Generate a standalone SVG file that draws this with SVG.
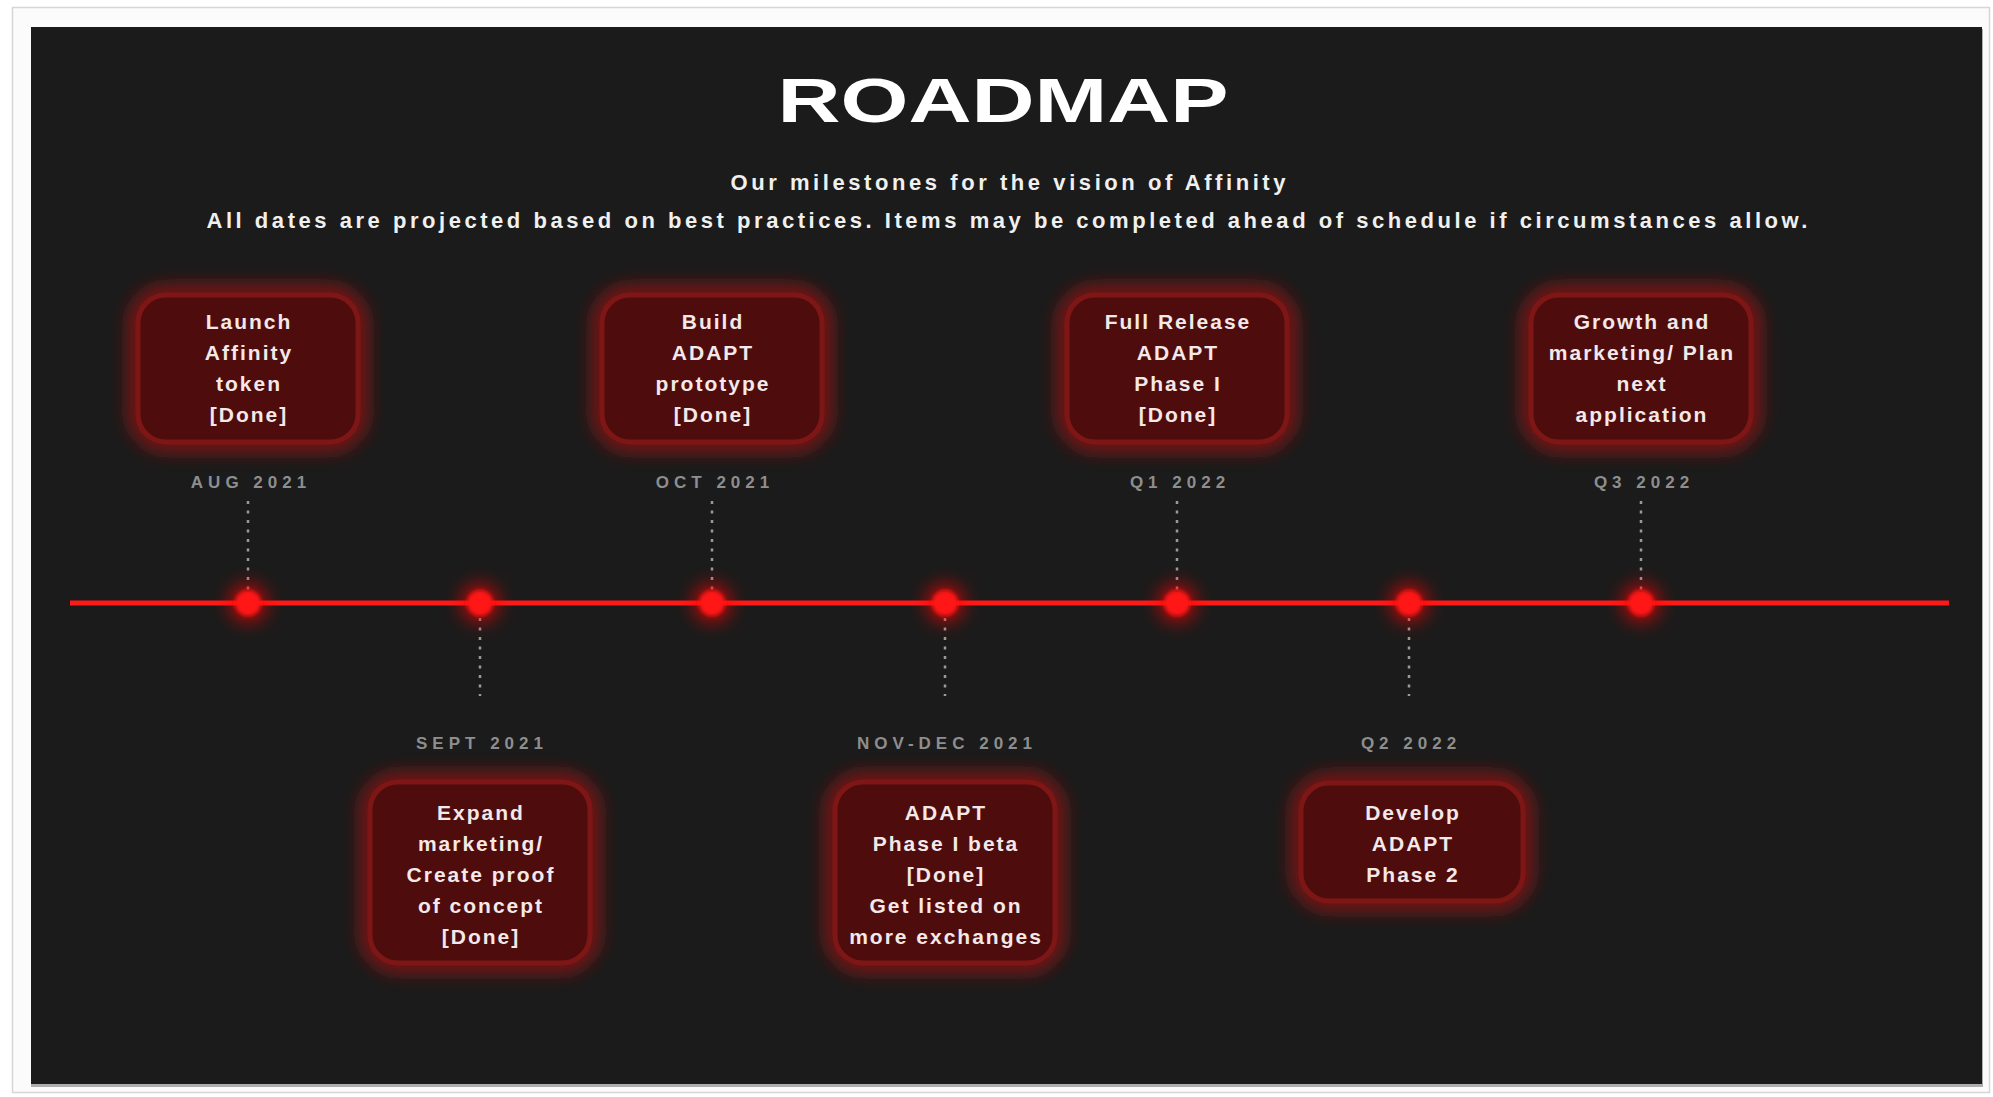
<svg xmlns="http://www.w3.org/2000/svg" width="1993" height="1097" viewBox="0 0 1993 1097">
  <defs>
    <filter id="glow" x="-40%" y="-40%" width="180%" height="180%">
      <feGaussianBlur stdDeviation="9"/>
    </filter>
    <filter id="soft" x="-50%" y="-50%" width="200%" height="200%">
      <feGaussianBlur stdDeviation="2"/>
    </filter>
    <filter id="lineglow" x="-5%" y="-300%" width="110%" height="700%">
      <feGaussianBlur stdDeviation="4"/>
    </filter>
  </defs>
  <style>
    .title { font-family: "Liberation Sans", Arial, sans-serif; font-weight: bold; font-size: 63px; fill: #ffffff; }
    .sub { font-family: "Liberation Sans", Arial, sans-serif; font-weight: bold; font-size: 22px; fill: #f0f0f0; }
    .txt { font-family: "Liberation Sans", Arial, sans-serif; font-weight: bold; font-size: 21px; letter-spacing: 2px; fill: #f4e8e8; text-anchor: middle; }
    .date { font-family: "Liberation Sans", Arial, sans-serif; font-weight: bold; font-size: 17px; letter-spacing: 5px; fill: #8e8e8e; text-anchor: middle; }
    .halo { fill: none; stroke: #9a1414; stroke-width: 20; opacity: 0.8; filter: url(#glow); }
    .box { fill: #4e0c0c; stroke: #7e1616; stroke-width: 5; }
    .dash { stroke: #9a9a9a; stroke-width: 2.5; stroke-dasharray: 3 6.5; fill: none; }
    .dothalo { fill: #ff0000; opacity: 0.6; filter: url(#glow); }
    .dot { fill: #ff1414; filter: url(#soft); }
  </style>

  <!-- page background and frame -->
  <rect x="0" y="0" width="1993" height="1097" fill="#ffffff"/>
  <rect x="12.5" y="7.5" width="1977" height="1085" fill="#fbfbfb" stroke="#d6d6d6" stroke-width="1.5"/>
  <rect x="31" y="29" width="1952" height="1058" fill="#7a7a7a" opacity="0.6"/>
  <rect id="panel" x="31" y="27" width="1951" height="1057" fill="#1b1b1b"/>

  <!-- headings -->
  <g id="heading">
    <text class="title" x="1003" y="122" text-anchor="middle" textLength="451" lengthAdjust="spacingAndGlyphs">ROADMAP</text>
    <text class="sub" x="1008" y="190" text-anchor="middle" textLength="555" lengthAdjust="spacing">Our milestones for the vision of Affinity</text>
    <text class="sub" x="1007" y="228" text-anchor="middle" textLength="1601" lengthAdjust="spacing">All dates are projected based on best practices. Items may be completed ahead of schedule if circumstances allow.</text>
  </g>

  <!-- connectors: timeline and dotted leaders -->
  <g id="connectors">
    <line x1="70" y1="603" x2="1949" y2="603" stroke="#ff0000" stroke-width="14" opacity="0.5" filter="url(#lineglow)"/>
    <line x1="70" y1="603" x2="1949" y2="603" stroke="#ff1a1a" stroke-width="5"/>
    <line class="dash" x1="248" y1="501" x2="248" y2="590"/>
    <line class="dash" x1="480" y1="618" x2="480" y2="696"/>
    <line class="dash" x1="712" y1="501" x2="712" y2="590"/>
    <line class="dash" x1="945" y1="618" x2="945" y2="696"/>
    <line class="dash" x1="1177" y1="501" x2="1177" y2="590"/>
    <line class="dash" x1="1409" y1="618" x2="1409" y2="696"/>
    <line class="dash" x1="1641" y1="501" x2="1641" y2="590"/>
    <circle class="dothalo" cx="248" cy="603" r="20"/>
    <circle class="dothalo" cx="480" cy="603" r="20"/>
    <circle class="dothalo" cx="712" cy="603" r="20"/>
    <circle class="dothalo" cx="945" cy="603" r="20"/>
    <circle class="dothalo" cx="1177" cy="603" r="20"/>
    <circle class="dothalo" cx="1409" cy="603" r="20"/>
    <circle class="dothalo" cx="1641" cy="603" r="20"/>
    <circle class="dot" cx="248" cy="603" r="13"/>
    <circle class="dot" cx="480" cy="603" r="13"/>
    <circle class="dot" cx="712" cy="603" r="13"/>
    <circle class="dot" cx="945" cy="603" r="13"/>
    <circle class="dot" cx="1177" cy="603" r="13"/>
    <circle class="dot" cx="1409" cy="603" r="13"/>
    <circle class="dot" cx="1641" cy="603" r="13"/>
  </g>

  <!-- top milestones -->
  <g id="m-aug-2021">
    <rect class="halo" x="138" y="295" width="220" height="147" rx="28"/>
    <rect class="box" x="138" y="295" width="220" height="147" rx="28"/>
    <text class="txt" x="249" y="329">Launch</text>
    <text class="txt" x="249" y="360">Affinity</text>
    <text class="txt" x="249" y="391">token</text>
    <text class="txt" x="249" y="422">[Done]</text>
    <text class="date" x="251" y="488">AUG 2021</text>
  </g>

  <g id="m-oct-2021">
    <rect class="halo" x="602" y="295" width="220" height="147" rx="28"/>
    <rect class="box" x="602" y="295" width="220" height="147" rx="28"/>
    <text class="txt" x="713" y="329">Build</text>
    <text class="txt" x="713" y="360">ADAPT</text>
    <text class="txt" x="713" y="391">prototype</text>
    <text class="txt" x="713" y="422">[Done]</text>
    <text class="date" x="715" y="488">OCT 2021</text>
  </g>

  <g id="m-q1-2022">
    <rect class="halo" x="1067" y="295" width="220" height="147" rx="28"/>
    <rect class="box" x="1067" y="295" width="220" height="147" rx="28"/>
    <text class="txt" x="1178" y="329">Full Release</text>
    <text class="txt" x="1178" y="360">ADAPT</text>
    <text class="txt" x="1178" y="391">Phase I</text>
    <text class="txt" x="1178" y="422">[Done]</text>
    <text class="date" x="1180" y="488">Q1 2022</text>
  </g>

  <g id="m-q3-2022">
    <rect class="halo" x="1531" y="295" width="220" height="147" rx="28"/>
    <rect class="box" x="1531" y="295" width="220" height="147" rx="28"/>
    <text class="txt" x="1642" y="329">Growth and</text>
    <text class="txt" x="1642" y="360">marketing/ Plan</text>
    <text class="txt" x="1642" y="391">next</text>
    <text class="txt" x="1642" y="422">application</text>
    <text class="date" x="1644" y="488">Q3 2022</text>
  </g>

  <!-- bottom milestones -->
  <g id="m-sept-2021">
    <text class="date" x="482" y="749">SEPT 2021</text>
    <rect class="halo" x="370" y="782" width="220" height="181" rx="28"/>
    <rect class="box" x="370" y="782" width="220" height="181" rx="28"/>
    <text class="txt" x="481" y="820">Expand</text>
    <text class="txt" x="481" y="851">marketing/</text>
    <text class="txt" x="481" y="882">Create proof</text>
    <text class="txt" x="481" y="913">of concept</text>
    <text class="txt" x="481" y="944">[Done]</text>
  </g>

  <g id="m-nov-dec-2021">
    <text class="date" x="947" y="749">NOV-DEC 2021</text>
    <rect class="halo" x="835" y="782" width="220" height="181" rx="28"/>
    <rect class="box" x="835" y="782" width="220" height="181" rx="28"/>
    <text class="txt" x="946" y="820">ADAPT</text>
    <text class="txt" x="946" y="851">Phase I beta</text>
    <text class="txt" x="946" y="882">[Done]</text>
    <text class="txt" x="946" y="913">Get listed on</text>
    <text class="txt" x="946" y="944">more exchanges</text>
  </g>

  <g id="m-q2-2022">
    <text class="date" x="1411" y="749">Q2 2022</text>
    <rect class="halo" x="1301" y="783" width="222" height="118" rx="28"/>
    <rect class="box" x="1301" y="783" width="222" height="118" rx="28"/>
    <text class="txt" x="1413" y="820">Develop</text>
    <text class="txt" x="1413" y="851">ADAPT</text>
    <text class="txt" x="1413" y="882">Phase 2</text>
  </g>
</svg>
